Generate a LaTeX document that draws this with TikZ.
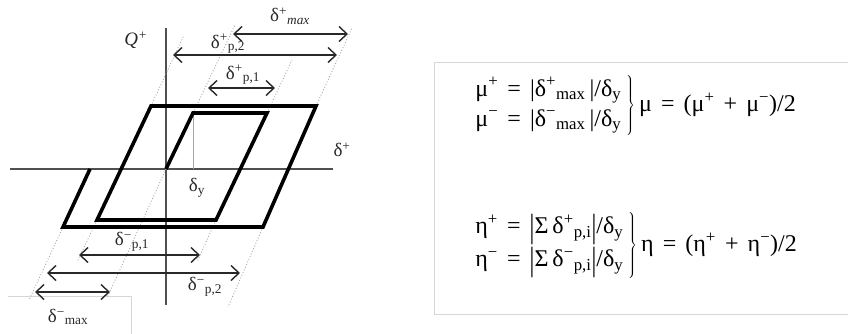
\documentclass[tikz,border=0pt]{standalone}
\usepackage{fontspec}
\setmainfont{Liberation Serif}
\usepackage{xcolor}
\definecolor{hyink}{RGB}{40, 40, 40}
\definecolor{hyaxis}{RGB}{80, 80, 80}
\definecolor{hyguide}{RGB}{165, 165, 165}
\definecolor{hyframe}{RGB}{215, 215, 215}
\usepackage{tikz}
\usetikzlibrary{arrows.meta}
\newcommand{\dsup}[1]{\textsuperscript{#1}}
\newcommand{\dsub}[1]{\textsubscript{#1}}
\newcommand{\tallbar}{\raisebox{-0.17em}{\scalebox{1}[1.4]{|}}}
\newcommand{\eqfont}{\fontsize{24}{30}\selectfont\spaceskip=0.38em\relax}
\tikzset{
  loopline/.style = {
    draw=black, 
    line width=3.6pt, 
    line join=miter
  },
  axisline/.style = {
    draw=hyaxis, 
    line width=1.1pt
  },
  guideline/.style = {
    draw=hyguide, 
    dotted, 
    line width=0.9pt
  },
  spanarrow/.style = {
    {Straight Barb[length=8pt, width=15pt]}-{Straight Barb[length=8pt, width=15pt]}, 
    draw=hyink, 
    line width=1.4pt
  },
  spanlabel/.style = {
    font=\fontsize{19}{21}\selectfont, 
    text=hyink, 
    inner sep=0pt
  },
  eqblock/.style = {
    font=\eqfont, 
    text=black, 
    anchor=west, 
    inner sep=0pt
  },
  framebox/.style = {
    draw=hyframe, 
    line width=1pt
  }
}

\begin{document}
\begin{tikzpicture}[x=1pt, y=-1pt]
  \useasboundingbox (0,0) rectangle (848,333);

  % Frames
  \draw[framebox] (434,62) rectangle (852,314);
  \draw[framebox] (8,296) -- (131,296) -- (131,336);

  % Axes
  \draw[axisline] (10,169) -- (333,169);
  \draw[axisline] (166,28) -- (166,305);

  % Loop corners
  \coordinate (O) at (166,169);
  \coordinate (in1) at (193,113);
  \coordinate (in2) at (267,113);
  \coordinate (in3) at (216,220);
  \coordinate (in4) at (97,220);
  \coordinate (out1) at (151,106);
  \coordinate (out2) at (316,106);
  \coordinate (out3) at (263,227);
  \coordinate (out4) at (63,227);
  \coordinate (endA) at (90,169);

  % Guide lines
  \draw[guideline] (out1) -- (184,35);
  \draw[guideline] (in1) -- (235,25);
  \draw[guideline] (in2) -- (292,60);
  \draw[guideline] (out2) -- (352,28);
  \draw[guideline] (out4) -- (29,300);
  \draw[guideline] (in4) -- (77,262);
  \draw[guideline] (O) -- (107,298);
  \draw[guideline] (in3) -- (197,262);
  \draw[guideline] (out3) -- (228,307);
  \draw[draw=hyguide, line width=0.8pt] (in1) -- (193,169);

  % Loading path
  \draw[loopline] (O) -- (in1) -- (in2) -- (in3) -- (in4) -- (out1) -- (out2) -- (out3) -- (out4) -- (endA);

  % Positive spans
  \coordinate (pmaxL) at (233,34);
  \coordinate (pmaxR) at (348,34);
  \coordinate (p2L) at (173,55);
  \coordinate (p2R) at (337,55);
  \coordinate (p1L) at (208,88);
  \coordinate (p1R) at (275,88);
  \draw[spanarrow] (pmaxL) -- (pmaxR);
  \draw[spanarrow] (p2L) -- (p2R);
  \draw[spanarrow] (p1L) -- (p1R);
  \node[spanlabel] (lpmax) at (290,16) {δ\dsup{+}\dsub{\itshape max}};
  \node[spanlabel] (lp2) at (228,44) {δ\dsup{+}\dsub{p,2}};
  \node[spanlabel] (lp1) at (243,75) {δ\dsup{+}\dsub{p,1}};

  % Negative spans
  \coordinate (m1L) at (79,255);
  \coordinate (m1R) at (200,255);
  \coordinate (m2L) at (47,273);
  \coordinate (m2R) at (240,273);
  \coordinate (mmaxL) at (35,292);
  \coordinate (mmaxR) at (110,292);
  \draw[spanarrow] (m1L) -- (m1R);
  \draw[spanarrow] (m2L) -- (m2R);
  \draw[spanarrow] (mmaxL) -- (mmaxR);
  \node[spanlabel] (lm1) at (132,242) {δ\dsup{−}\dsub{p,1}};
  \node[spanlabel] (lm2) at (205,287) {δ\dsup{−}\dsub{p,2}};
  \node[spanlabel] (lmmax) at (68,317) {δ\dsup{−}\dsub{max}};

  % Axis labels
  \node[spanlabel] (ly) at (197,188) {δ\dsub{y}};
  \node[spanlabel] (lx) at (342,150) {δ\dsup{+}};
  \node[spanlabel] (lq) at (136,40) {\itshape Q\dsup{+}};

  % Indices
  \node[eqblock] (mueq) at (474,105) {$\left.\begin{tabular}{@{}l@{\hspace{5pt}}}μ\dsup{+} = |δ\dsup{+}\dsub{max}\,|/δ\dsub{y}\\ μ\dsup{−} = |δ\dsup{−}\dsub{max}\,|/δ\dsub{y}\end{tabular}\right\}$\,μ = (μ\dsup{+} + μ\dsup{−})/2};
  \node[eqblock] (etaeq) at (474,245) {$\left.\begin{tabular}{@{}l@{\hspace{5pt}}}η\dsup{+} = \tallbar Σ\,δ\dsup{+}\dsub{p,i}\tallbar/δ\dsub{y}\\[3pt] η\dsup{−} = \tallbar Σ\,δ\dsup{−}\dsub{p,i}\tallbar/δ\dsub{y}\end{tabular}\right\}$\,η = (η\dsup{+} + η\dsup{−})/2};
\end{tikzpicture}
\end{document}
